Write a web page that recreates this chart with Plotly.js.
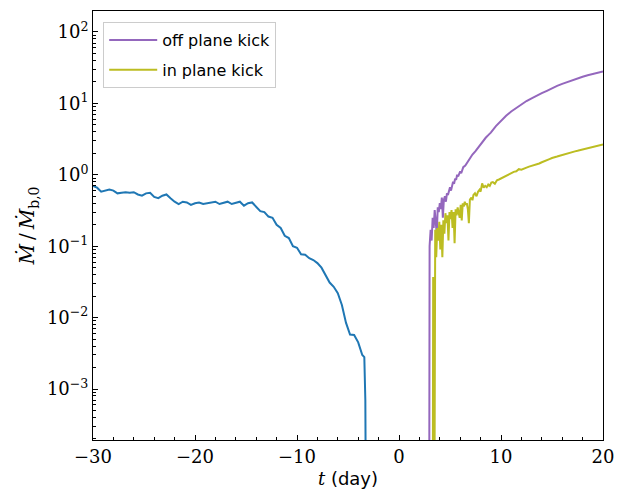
<!DOCTYPE html>
<html>
<head>
<meta charset="utf-8">
<script src="https://cdn.plot.ly/plotly-3.0.1.min.js"></script>
<style>html,body{margin:0;padding:0;background:#fff;}#chart{width:617px;height:495px;}</style>
</head>
<body>
<div id="chart"></div>
<script>
// Before: accretion rate of the binary
var tBefore = [-30, -29.6, -29.2, -28.8, -28.4, -28.0, -27.6, -27.2, -26.8, -26.4, -26.0, -25.6, -25.2, -24.8, -24.4, -24.0, -23.6, -23.2, -22.8, -22.4, -22.0, -21.6, -21.2, -20.8, -20.4, -20.0, -19.6, -19.2, -18.8, -18.4, -18.0, -17.6, -17.2, -16.8, -16.4, -16.0, -15.6, -15.2, -14.8, -14.4, -14.0, -13.6, -13.2, -12.8, -12.4, -12.0, -11.6, -11.2, -10.8, -10.4, -10.0, -9.6, -9.2, -8.8, -8.4, -8.0, -7.6, -7.2, -6.8, -6.4, -6.0, -5.6, -5.2, -4.8, -4.4, -4.0, -3.6, -3.4, -3.3, -3.2];
var mBefore = [0.70, 0.66, 0.58, 0.60, 0.62, 0.60, 0.55, 0.56, 0.57, 0.56, 0.57, 0.53, 0.51, 0.55, 0.56, 0.49, 0.47, 0.51, 0.53, 0.47, 0.42, 0.39, 0.42, 0.41, 0.38, 0.40, 0.41, 0.39, 0.40, 0.41, 0.42, 0.39, 0.40, 0.42, 0.39, 0.41, 0.42, 0.37, 0.40, 0.41, 0.36, 0.31, 0.30, 0.26, 0.25, 0.20, 0.18, 0.14, 0.13, 0.10, 0.095, 0.077, 0.076, 0.068, 0.064, 0.058, 0.050, 0.040, 0.031, 0.027, 0.022, 0.015, 0.0085, 0.0058, 0.0057, 0.0045, 0.0030, 0.0028, 0.0007, 0.000001];

// After: off plane kick
var tOff = [2.95, 3.0, 3.1, 3.2, 3.3, 3.4, 3.5, 3.6, 3.7, 3.8, 3.9, 4.0, 4.1, 4.2, 4.3, 4.4, 4.5, 4.6, 4.7, 4.8, 4.9, 5.0, 5.1, 5.2, 5.3, 5.4, 5.5, 5.6, 5.7, 5.8, 5.9, 6.0, 6.1, 6.2, 6.3, 6.5, 6.7, 6.9, 7.0, 7.2, 7.5, 7.8, 8.0, 8.2, 8.5, 8.8, 9.0, 9.5, 10.0, 10.5, 11.0, 11.5, 12.0, 12.5, 13.0, 13.5, 14.0, 14.5, 15.0, 15.5, 16.0, 16.5, 17.0, 17.5, 18.0, 18.5, 19.0, 19.5, 20.0];
var mOff = [0.000001, 0.10, 0.17, 0.12, 0.25, 0.18, 0.32, 0.22, 0.15, 0.35, 0.30, 0.40, 0.33, 0.48, 0.25, 0.45, 0.50, 0.42, 0.55, 0.52, 0.60, 0.67, 0.60, 0.72, 0.80, 0.75, 0.88, 0.85, 1.00, 0.95, 1.08, 1.12, 1.05, 1.22, 1.28, 1.35, 1.50, 1.65, 1.75, 1.92, 2.15, 2.45, 2.70, 2.95, 3.30, 3.65, 3.90, 4.80, 5.70, 6.70, 7.70, 8.70, 9.70, 10.8, 11.8, 12.9, 13.9, 15.0, 16.4, 17.6, 18.8, 20.0, 21.2, 22.4, 23.6, 24.8, 25.9, 27.0, 28.0];

// After: in plane kick
var tIn = [3.30, 3.35, 3.45, 3.55, 3.65, 3.75, 3.85, 3.95, 4.05, 4.15, 4.25, 4.35, 4.45, 4.55, 4.65, 4.75, 4.85, 4.95, 5.05, 5.15, 5.25, 5.35, 5.45, 5.55, 5.65, 5.75, 5.85, 5.95, 6.05, 6.15, 6.25, 6.35, 6.45, 6.55, 6.65, 6.75, 6.85, 6.95, 7.1, 7.2, 7.3, 7.45, 7.6, 7.75, 7.9, 8.0, 8.15, 8.3, 8.45, 8.6, 8.75, 8.9, 9.05, 9.2, 9.4, 9.6, 9.8, 10.0, 10.25, 10.5, 10.75, 11.0, 11.25, 11.5, 11.75, 12.0, 12.25, 12.5, 12.75, 13.0, 13.25, 13.5, 13.75, 14.0, 14.25, 14.5, 14.75, 15.0, 15.25, 15.5, 15.75, 16.0, 16.25, 16.5, 16.75, 17.0, 17.25, 17.5, 17.75, 18.0, 18.25, 18.5, 18.75, 19.0, 19.25, 19.5, 19.75, 20.0];
var mIn = [0.000001, 0.037, 0.000001, 0.17, 0.07, 0.18, 0.12, 0.22, 0.09, 0.20, 0.07, 0.23, 0.15, 0.29, 0.21, 0.27, 0.12, 0.30, 0.24, 0.32, 0.18, 0.30, 0.11, 0.33, 0.27, 0.35, 0.30, 0.25, 0.38, 0.23, 0.40, 0.36, 0.42, 0.38, 0.40, 0.33, 0.21, 0.45, 0.48, 0.44, 0.52, 0.55, 0.50, 0.58, 0.62, 0.58, 0.76, 0.66, 0.70, 0.67, 0.73, 0.70, 0.78, 0.79, 0.75, 0.84, 0.86, 0.89, 0.93, 0.97, 1.02, 1.04, 1.10, 1.12, 1.20, 1.18, 1.23, 1.26, 1.30, 1.33, 1.37, 1.42, 1.44, 1.50, 1.54, 1.60, 1.66, 1.72, 1.74, 1.80, 1.85, 1.90, 1.93, 2.00, 2.03, 2.08, 2.13, 2.17, 2.21, 2.27, 2.31, 2.37, 2.41, 2.47, 2.52, 2.57, 2.61, 2.67];

var yTickVals = [1e-3, 1e-2, 1e-1, 1, 10, 100];
var yTickText = ['10<sup>\u22123</sup>', '10<sup>\u22122</sup>', '10<sup>\u22121</sup>', '10<sup>0</sup>', '10<sup>1</sup>', '10<sup>2</sup>'];
var xTickVals = [-30, -20, -10, 0, 10, 20];

var yMinor = [];
for (var d = -4; d <= 2; d++) { for (var k = 2; k <= 9; k++) { yMinor.push(k * Math.pow(10, d)); } }

var traces = [
  {x: tBefore, y: mBefore, type: 'scatter', mode: 'lines', line: {color: '#1f77b4', width: 2}, showlegend: false},
  {x: tOff, y: mOff, type: 'scatter', mode: 'lines', name: 'off plane kick', legendgroup: 'a', line: {color: '#9467bd', width: 2}},
  {x: tIn, y: mIn, type: 'scatter', mode: 'lines', name: 'in plane kick', legendgroup: 'b', line: {color: '#bcbd22', width: 2}}
];

var serif = 'DejaVu Serif, serif';
var layout = {
  width: 617, height: 495,
  margin: {l: 93, r: 14, t: 11, b: 55},
  paper_bgcolor: '#fff', plot_bgcolor: '#fff',
  showlegend: true,
  legend: {
    x: 0.02, y: 0.974, xanchor: 'left', yanchor: 'top',
    bgcolor: 'rgba(255,255,255,0.8)', bordercolor: '#cccccc', borderwidth: 1,
    font: {family: 'DejaVu Sans, sans-serif', size: 16, color: '#000'},
    itemwidth: 48, traceorder: 'grouped', tracegroupgap: 6
  },
  xaxis: {
    range: [-30, 20], tickmode: 'array', tickvals: xTickVals,
    ticks: 'inside', ticklen: 5, tickwidth: 1, tickcolor: '#000',
    showline: true, linecolor: '#000', linewidth: 1, mirror: true,
    showgrid: false, zeroline: false,
    tickfont: {family: serif, size: 18, color: '#000'},
    minor: {ticks: 'inside', ticklen: 3, tickwidth: 1, tickcolor: '#000', dtick: 2, showgrid: false},
    title: {text: '<span style="font-family:DejaVu Serif"><i>t</i></span> (day)', font: {family: 'DejaVu Sans, sans-serif', size: 18, color: '#000'}, standoff: 6}
  },
  yaxis: {
    type: 'log', range: [-3.714, 2.294], tickmode: 'array', tickvals: yTickVals, ticktext: yTickText,
    ticks: 'inside', ticklen: 5, tickwidth: 1, tickcolor: '#000',
    showline: true, linecolor: '#000', linewidth: 1, mirror: true,
    showgrid: false, zeroline: false,
    tickfont: {family: serif, size: 18, color: '#000'},
    minor: {tickmode: 'array', tickvals: yMinor, ticks: 'inside', ticklen: 3, tickwidth: 1, tickcolor: '#000', showgrid: false},
    title: {text: '<i>\u1E40</i>\u2009/\u2009<i>\u1E40</i><sub>b,0</sub>', font: {family: serif, size: 20, color: '#000'}, standoff: 6}
  }
};

Plotly.newPlot('chart', traces, layout, {staticPlot: true, displayModeBar: false});
</script>
</body>
</html>
